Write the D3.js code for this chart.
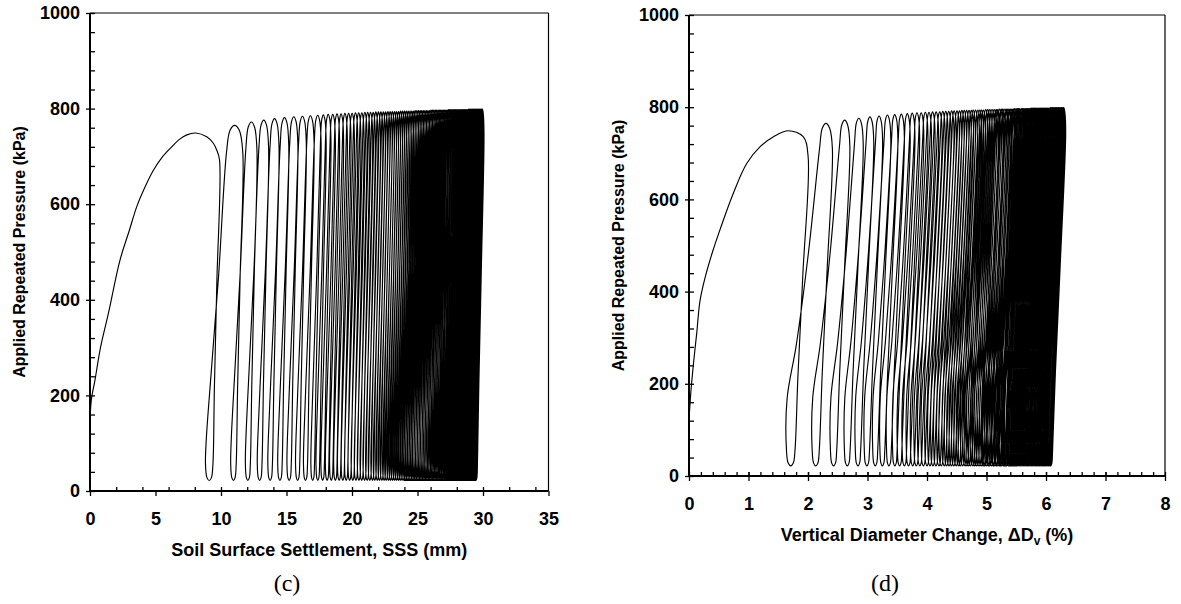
<!DOCTYPE html>
<html>
<head>
<meta charset="utf-8">
<script src="https://cdn.jsdelivr.net/npm/d3@7"></script>
<style>
  body { margin: 0; background: #fff; }
  text { font-family: "Liberation Sans", Arial, sans-serif; font-weight: bold; fill: #000; }
</style>
</head>
<body>
<svg id="fig" width="1181" height="604"></svg>
<script>
// peak pressure of each loading cycle (kPa), first entry is the initial loading
const peakPressure = [
  748, 765, 772, 776, 779, 781, 783, 784, 785, 786,
  787, 788, 788, 789, 789, 790, 790, 790, 791, 791,
  791, 792, 792, 792, 792, 793, 793, 793, 793, 793,
  794, 794, 794, 794, 794, 794, 795, 795, 795, 795,
  795, 795, 795, 795, 796, 796, 796, 796, 796, 796,
  796, 796, 796, 796, 797, 797, 797, 797, 797, 797,
  797, 797, 797, 797, 797, 797, 797, 798, 798, 798,
  798, 798, 798, 798, 798, 798, 798, 798, 798, 798,
  798, 798, 798, 798, 798, 799, 799, 799, 799, 799,
  799, 799, 799, 799, 799, 799, 799, 799, 799, 799
];
// unloaded pressure at the bottom of each cycle (kPa)
const valleyPressure = 22;

// (c) soil surface settlement at the bottom of each cycle (mm)
const sssBottoms = [
  9.10, 10.95, 12.05, 12.95, 13.75, 14.50, 15.20, 15.85, 16.45, 17.00,
  17.39, 17.76, 18.10, 18.42, 18.73, 19.02, 19.30, 19.56, 19.82, 20.06,
  20.30, 20.53, 20.74, 20.96, 21.16, 21.36, 21.56, 21.74, 21.93, 22.10,
  22.28, 22.45, 22.61, 22.78, 22.93, 23.09, 23.24, 23.39, 23.54, 23.68,
  23.82, 23.96, 24.09, 24.22, 24.35, 24.48, 24.61, 24.73, 24.85, 24.97,
  25.09, 25.21, 25.32, 25.44, 25.55, 25.66, 25.77, 25.88, 25.98, 26.09,
  26.19, 26.29, 26.39, 26.49, 26.59, 26.69, 26.78, 26.88, 26.97, 27.07,
  27.16, 27.25, 27.34, 27.43, 27.52, 27.60, 27.69, 27.78, 27.86, 27.94,
  28.03, 28.11, 28.19, 28.27, 28.35, 28.43, 28.51, 28.59, 28.67, 28.74,
  28.82, 28.89, 28.97, 29.04, 29.12, 29.19, 29.26, 29.33, 29.40, 29.47
];
// (c) first loading curve
const sssInitX = [0, 0.1, 0.38, 0.8, 1.4, 2.29, 3.0, 3.57, 4.2, 4.84, 5.5, 6.24, 6.8, 7.39, 8.07, 8.91, 9.4, 9.68];
const sssInitP = [140, 190, 232, 300, 371, 483, 545, 595, 636, 671, 698, 720, 735, 745, 749, 741, 728, 713];

// (d) vertical diameter change at the bottom of each cycle (%)
const dvBottoms = [
  1.71, 2.13, 2.43, 2.66, 2.84, 2.99, 3.13, 3.25, 3.36, 3.46,
  3.54, 3.62, 3.69, 3.76, 3.82, 3.88, 3.94, 4.00, 4.05, 4.10,
  4.15, 4.20, 4.24, 4.29, 4.33, 4.37, 4.41, 4.45, 4.49, 4.53,
  4.56, 4.60, 4.64, 4.67, 4.70, 4.73, 4.77, 4.80, 4.83, 4.86,
  4.89, 4.92, 4.95, 4.97, 5.00, 5.03, 5.05, 5.08, 5.11, 5.13,
  5.16, 5.18, 5.21, 5.23, 5.25, 5.28, 5.30, 5.32, 5.34, 5.37,
  5.39, 5.41, 5.43, 5.45, 5.47, 5.49, 5.51, 5.53, 5.55, 5.57,
  5.59, 5.61, 5.63, 5.65, 5.67, 5.69, 5.70, 5.72, 5.74, 5.76,
  5.77, 5.79, 5.81, 5.83, 5.84, 5.86, 5.88, 5.89, 5.91, 5.93,
  5.94, 5.96, 5.97, 5.99, 6.00, 6.02, 6.04, 6.05, 6.07, 6.08
];
// (d) first loading curve
const dvInitX = [0, 0.03, 0.08, 0.13, 0.185, 0.28, 0.4, 0.52, 0.75, 0.97, 1.2, 1.42, 1.67, 1.92];
const dvInitP = [121, 180, 250, 310, 380, 435, 488, 534, 615, 678, 715, 736, 749, 736];

const pressureTicks = [0, 200, 400, 600, 800, 1000];
const sssTicks = [0, 5, 10, 15, 20, 25, 30, 35];
const dvTicks = [0, 1, 2, 3, 4, 5, 6, 7, 8];

const svg = d3.select('#fig');

// build the pressure-deformation path cycle by cycle
function cyclePoints(cfg) {
  const bottoms = cfg.bottoms;
  const V = valleyPressure;
  const n = bottoms.length;
  const pts = cfg.initX.map((x, i) => [x, cfg.initP[i]]);
  const gaps = bottoms.map((b, i) => i < n - 1 ? bottoms[i + 1] - b : b - bottoms[i - 1]);
  const half = gaps.map(g => (cfg.w0 + cfg.kw * g) / 2);
  for (let k = 0; k < n; k++) {
    const b = bottoms[k], h = half[k];
    const top = peakPressure[k] - 55;
    // unloading branch
    cfg.unload.forEach(([f, l]) => pts.push([b + h + cfg.lean * l, V + 35 + (top - V - 35) * f]));
    pts.push([b + h * 0.6, V + 6], [b, V], [b - h * 0.6, V + 6]);
    if (k === n - 1) break;
    // reloading branch up to next peak
    const foot = b - h;
    const R = cfg.lean + gaps[k] * cfg.kR;
    const P = peakPressure[k + 1];
    cfg.reload.forEach(([f, l]) => pts.push([foot + R * l, V + 35 + (P - 55 - V - 35) * f]));
    const xL = foot + R;
    const xR = bottoms[k + 1] + half[k + 1] + cfg.lean;
    const W = xR - xL;
    pts.push([xL + 0.22 * W, P - 10], [xL + 0.5 * W, P], [xR - 0.22 * W, P - 10]);
  }
  return pts;
}

function drawPanel(p) {
  const x = d3.scaleLinear().domain(p.xDomain).range([p.left, p.right]);
  const y = d3.scaleLinear().domain([0, 1000]).range([p.bottom, p.top]);
  const g = svg.append('g');

  const line = d3.line()
    .x(d => x(d[0]))
    .y(d => y(d[1]))
    .curve(d3.curveCatmullRom.alpha(0.5));

  g.append('path')
    .datum(cyclePoints(p))
    .attr('d', line)
    .attr('fill', 'none')
    .attr('stroke', '#000')
    .attr('stroke-width', 1.15);

  const noDomain = s => s.select('.domain').remove();
  const labelStyle = s => s.selectAll('text')
    .attr('font-family', null).attr('font-size', null)
    .style('font-size', '18px');

  // x axis: minor ticks inside, major ticks + labels
  g.append('g')
    .attr('transform', `translate(0,${p.bottom})`)
    .call(d3.axisBottom(x).tickValues(p.xMinor).tickSize(-4).tickFormat(''))
    .call(noDomain);
  if (p.majorCross) {
    g.append('g')
      .attr('transform', `translate(0,${p.bottom})`)
      .call(d3.axisBottom(x).tickValues(p.xTicks).tickSize(-4).tickFormat(''))
      .call(noDomain);
  }
  g.append('g')
    .attr('transform', `translate(0,${p.bottom})`)
    .call(d3.axisBottom(x).tickValues(p.xTicks).tickSize(5).tickPadding(16).tickFormat(d3.format('d')))
    .call(noDomain)
    .call(labelStyle);

  // y axis
  g.append('g')
    .attr('transform', `translate(${p.left},0)`)
    .call(d3.axisLeft(y).tickValues(d3.range(0, 1001, 40)).tickSize(-5).tickFormat(''))
    .call(noDomain);
  g.append('g')
    .attr('transform', `translate(${p.left},0)`)
    .call(d3.axisLeft(y).tickValues(pressureTicks).tickSize(4).tickPadding(6).tickFormat(d3.format('d')))
    .call(noDomain)
    .call(labelStyle);

  g.selectAll('.tick line').attr('stroke', '#000').attr('stroke-width', 1.3);

  // frame
  g.append('line').attr('x1', p.left).attr('x2', p.right).attr('y1', p.top).attr('y2', p.top)
    .attr('stroke', '#000').attr('stroke-width', 1.2);
  g.append('line').attr('x1', p.right).attr('x2', p.right).attr('y1', p.top).attr('y2', p.bottom)
    .attr('stroke', '#000').attr('stroke-width', 1.2);
  g.append('line').attr('x1', p.left).attr('x2', p.left).attr('y1', p.top).attr('y2', p.bottom + 1)
    .attr('stroke', '#000').attr('stroke-width', 2);
  g.append('line').attr('x1', p.left - 1).attr('x2', p.right).attr('y1', p.bottom).attr('y2', p.bottom)
    .attr('stroke', '#000').attr('stroke-width', 2);

  // axis titles
  g.append('text')
    .attr('transform', `translate(${p.left - 65},${(p.top + p.bottom) / 2}) rotate(-90)`)
    .attr('text-anchor', 'middle')
    .style('font-size', '16px')
    .text('Applied Repeated Pressure (kPa)');

  const xt = g.append('text')
    .attr('x', (p.left + p.right) / 2)
    .attr('y', p.bottom + 65)
    .attr('text-anchor', 'middle')
    .style('font-size', '18px');
  p.xTitle.forEach(([t, sub], i) => {
    const ts = xt.append('tspan').text(t);
    if (sub) ts.style('font-size', '12px').attr('dy', 4);
    else if (i > 0) ts.attr('dy', -4);
  });

  svg.append('text')
    .attr('x', p.captionX)
    .attr('y', 591)
    .attr('text-anchor', 'middle')
    .style('font-family', '"Liberation Serif", "Times New Roman", serif')
    .style('font-weight', 'normal')
    .style('font-size', '24px')
    .text(p.caption);
}

drawPanel({
  left: 90, right: 548.5, top: 13, bottom: 491,
  xDomain: [0, 35], xTicks: sssTicks, xMinor: d3.range(2, 35, 2),
  majorCross: false,
  bottoms: sssBottoms, initX: sssInitX, initP: sssInitP,
  lean: 0.5, kR: 0.6, w0: 0.2, kw: 0.2,
  reload: [[0, 0], [0.08, 0.04], [0.3, 0.28], [0.6, 0.62], [1, 1]],
  unload: [[1, 1], [0.6, 0.6], [0.25, 0.22], [0, 0]],
  xTitle: [['Soil Surface Settlement, SSS (mm)', false]],
  caption: '(c)', captionX: 287
});

drawPanel({
  left: 689, right: 1165, top: 15, bottom: 476,
  xDomain: [0, 8], xTicks: dvTicks, xMinor: d3.range(0.2, 8, 0.2),
  majorCross: true,
  bottoms: dvBottoms, initX: dvInitX, initP: dvInitP,
  lean: 0.22, kR: 0.8, w0: 0.06, kw: 0.2,
  reload: [[0, 0], [0.17, 0.02], [0.35, 0.3], [0.65, 0.66], [1, 1]],
  unload: [[1, 1], [0.6, 0.6], [0.25, 0.22], [0, 0]],
  xTitle: [['Vertical Diameter Change, \u0394D', false], ['v', true], [' (%)', false]],
  caption: '(d)', captionX: 885
});
</script>
</body>
</html>
